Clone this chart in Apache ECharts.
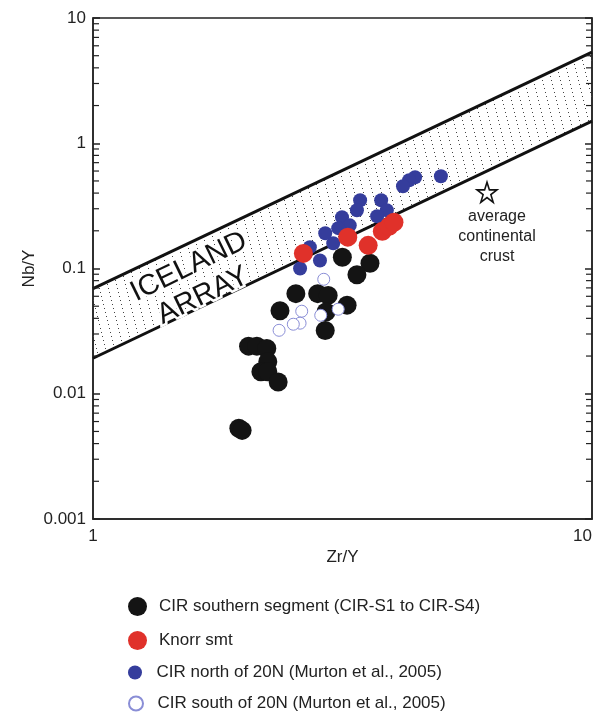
<!DOCTYPE html>
<html>
<head>
<meta charset="utf-8">
<script src="https://cdn.jsdelivr.net/npm/echarts@6/dist/echarts.min.js"></script>
<style>
  html, body { margin: 0; padding: 0; background: #fff; }
  #chart { width: 595px; height: 713px; }
</style>
</head>
<body>
<div id="chart"></div>
<script>
// CIR southern segment (CIR-S1 to CIR-S4)
var southZr = [3.16, 3.59, 3.38, 2.55, 2.37, 2.82, 2.96, 3.23, 2.92, 2.93,
               2.05, 2.13, 2.23, 2.24, 2.17, 2.24, 2.35, 1.96, 1.99];
var southNbY = [0.123, 0.110, 0.089, 0.063, 0.046, 0.063, 0.061, 0.051, 0.032, 0.045,
                0.024, 0.024, 0.023, 0.018, 0.015, 0.015, 0.0124, 0.0053, 0.0051];
// Knorr smt
var knorrZr = [2.64, 3.24, 3.56, 3.80, 3.92, 4.01];
var knorrNbY = [0.132, 0.178, 0.153, 0.198, 0.217, 0.234];
// CIR north of 20N (Murton et al., 2005)
var northZr = [4.98, 4.42, 4.30, 4.18, 3.43, 3.38, 3.78, 3.88, 3.71, 3.155,
               3.27, 3.10, 2.92, 3.03, 2.72, 2.85, 2.60];
var northNbY = [0.545, 0.535, 0.507, 0.453, 0.351, 0.292, 0.351, 0.292, 0.261, 0.257,
                0.221, 0.210, 0.191, 0.159, 0.148, 0.116, 0.100];
// CIR south of 20N (Murton et al., 2005)
var murtonSZr = [2.90, 2.62, 2.60, 2.52, 2.36, 2.86, 3.10];
var murtonSNbY = [0.082, 0.0456, 0.0366, 0.0359, 0.0321, 0.0423, 0.0473];
// average continental crust
var crustZr = [6.16];
var crustNbY = [0.406];
// Iceland array boundaries
var bandZr = [1, 10];
var bandLower = [0.0192, 1.50];
var bandUpper = [0.069, 5.33];

var xTicks = [1, 10];
var yTicks = [0.001, 0.01, 0.1, 1, 10];
var minorMult = [2, 3, 4, 5, 6, 7, 8, 9];

function pairs(xs, ys) {
  return xs.map(function (x, i) { return [x, ys[i]]; });
}

// dotted hatch for the band
var hatch = document.createElement('canvas');
hatch.width = 9;
hatch.height = 36;
var hctx = hatch.getContext('2d');
hctx.fillStyle = '#444';
for (var hy = 0; hy < 36; hy += 4) {
  hctx.fillRect(Math.floor(hy / 4), hy, 1, 1);
}

var font = 'Liberation Sans';
var myChart = echarts.init(document.getElementById('chart'));

var option = {
  animation: false,
  grid: {
    left: 93, right: 3, top: 18, bottom: 194,
    outerBoundsMode: 'none',
    show: true, borderColor: '#222', borderWidth: 1.5
  },
  xAxis: {
    type: 'log', logBase: 10, min: 1, max: 10,
    name: 'Zr/Y', nameLocation: 'middle', nameGap: 30, nameMoveOverlap: false,
    nameTextStyle: { fontFamily: font, fontSize: 17, color: '#222' },
    axisLine: { lineStyle: { color: '#222', width: 1.5 } },
    axisTick: { show: false },
    splitLine: { show: false },
    axisLabel: {
      fontFamily: font, fontSize: 17, color: '#222', margin: 9, alignMaxLabel: 'right',
      formatter: function (v) { return xTicks.indexOf(v) >= 0 ? String(v) : ''; }
    }
  },
  yAxis: [{
    type: 'log', logBase: 10, min: 0.001, max: 10,
    name: 'Nb/Y', nameLocation: 'middle', nameGap: 55, nameMoveOverlap: false,
    nameTextStyle: { fontFamily: font, fontSize: 17, color: '#222' },
    axisLine: { lineStyle: { color: '#222', width: 1.5 } },
    axisTick: { inside: true, length: 7, lineStyle: { color: '#222', width: 1.5 } },
    splitLine: { show: false },
    axisLabel: {
      fontFamily: font, fontSize: 17, color: '#222', margin: 7,
      formatter: function (v) { return yTicks.indexOf(v) >= 0 ? String(v) : ''; }
    }
  }, {
    type: 'log', logBase: 10, min: 0.001, max: 10, position: 'right',
    axisLine: { lineStyle: { color: '#222', width: 1.5 } },
    axisTick: { inside: true, length: 7, lineStyle: { color: '#222', width: 1.5 } },
    splitLine: { show: false },
    axisLabel: { show: false }
  }],
  legend: [
    { data: ['CIR southern segment (CIR-S1 to CIR-S4)'], left: 123, top: 592, itemWidth: 33, itemHeight: 19, icon: 'circle',
      textStyle: { fontFamily: font, fontSize: 17, color: '#222' } },
    { data: ['Knorr smt'], left: 123, top: 626, itemWidth: 33, itemHeight: 19, icon: 'circle',
      textStyle: { fontFamily: font, fontSize: 17, color: '#222' } },
    { data: ['CIR north of 20N (Murton et al., 2005)'], left: 123, top: 659, itemWidth: 33, itemHeight: 14, icon: 'circle',
      textStyle: { fontFamily: font, fontSize: 17, color: '#222' } },
    { data: ['CIR south of 20N (Murton et al., 2005)'], left: 123, top: 690, itemWidth: 33, itemHeight: 14, icon: 'circle',
      textStyle: { fontFamily: font, fontSize: 17, color: '#222' } }
  ],
  series: [
    {
      name: 'Iceland array',
      type: 'custom',
      data: [[bandZr[0], bandLower[0]]],
      silent: true,
      clip: false,
      z: 1,
      renderItem: function (params, api) {
        var lower = bandZr.map(function (x, i) { return api.coord([x, bandLower[i]]); });
        var upper = bandZr.map(function (x, i) { return api.coord([x, bandUpper[i]]); });
        var poly = lower.concat(upper.slice().reverse());
        var c = api.coord([1.608, 0.0791]);
        var children = [
          { type: 'polygon', shape: { points: poly }, style: { fill: { image: hatch, repeat: 'repeat' } } },
          { type: 'polyline', shape: { points: lower }, style: { stroke: '#111', lineWidth: 3, fill: null } },
          { type: 'polyline', shape: { points: upper }, style: { stroke: '#111', lineWidth: 3, fill: null } },
          {
            type: 'text', x: c[0], y: c[1], rotation: 26 * Math.PI / 180,
            style: {
              text: 'ICELAND\nARRAY', fill: '#111', stroke: '#fff', lineWidth: 5, strokeFirst: true,
              font: '29px "Liberation Sans"', align: 'center', verticalAlign: 'middle', lineHeight: 32
            }
          }
        ];
        // log minor ticks on left and right frame
        yTicks.slice(0, -1).forEach(function (base) {
          minorMult.forEach(function (m) {
            var l = api.coord([xTicks[0], base * m]);
            var r = api.coord([xTicks[1], base * m]);
            children.push({ type: 'line', shape: { x1: l[0], y1: l[1], x2: l[0] + 6, y2: l[1] }, style: { stroke: '#222', lineWidth: 1.2 } });
            children.push({ type: 'line', shape: { x1: r[0], y1: r[1], x2: r[0] - 6, y2: r[1] }, style: { stroke: '#222', lineWidth: 1.2 } });
          });
        });
        return { type: 'group', children: children };
      }
    },
    {
      name: 'CIR southern segment (CIR-S1 to CIR-S4)',
      type: 'scatter', symbol: 'circle', symbolSize: 19, z: 2,
      itemStyle: { color: '#141414', opacity: 1 },
      data: pairs(southZr, southNbY)
    },
    {
      name: 'CIR south of 20N (Murton et al., 2005)',
      type: 'scatter', symbol: 'circle', symbolSize: 12, z: 3,
      itemStyle: { color: '#fff', borderColor: '#8a8ed6', borderWidth: 1, opacity: 1 },
      data: pairs(murtonSZr, murtonSNbY)
    },
    {
      name: 'CIR north of 20N (Murton et al., 2005)',
      type: 'scatter', symbol: 'circle', symbolSize: 14, z: 4,
      itemStyle: { color: '#353d9c', opacity: 1 },
      data: pairs(northZr, northNbY)
    },
    {
      name: 'Knorr smt',
      type: 'scatter', symbol: 'circle', symbolSize: 19, z: 5,
      itemStyle: { color: '#e0312a', opacity: 1 },
      data: pairs(knorrZr, knorrNbY)
    },
    {
      name: 'average continental crust',
      type: 'scatter', z: 5,
      symbol: 'path://M50,0 L61.8,35.4 L99,35.4 L69,57.3 L80.4,92.7 L50,70.8 L19.6,92.7 L31,57.3 L1,35.4 L38.2,35.4 Z',
      symbolSize: 20,
      itemStyle: { color: '#fff', borderColor: '#111', borderWidth: 1.6, opacity: 1 },
      label: {
        show: true, position: 'bottom', distance: 4, offset: [10, 0],
        formatter: 'average\ncontinental\ncrust',
        fontFamily: font, fontSize: 16, lineHeight: 20, color: '#222', align: 'center'
      },
      data: pairs(crustZr, crustNbY)
    }
  ]
};

myChart.setOption(option);
</script>
</body>
</html>
